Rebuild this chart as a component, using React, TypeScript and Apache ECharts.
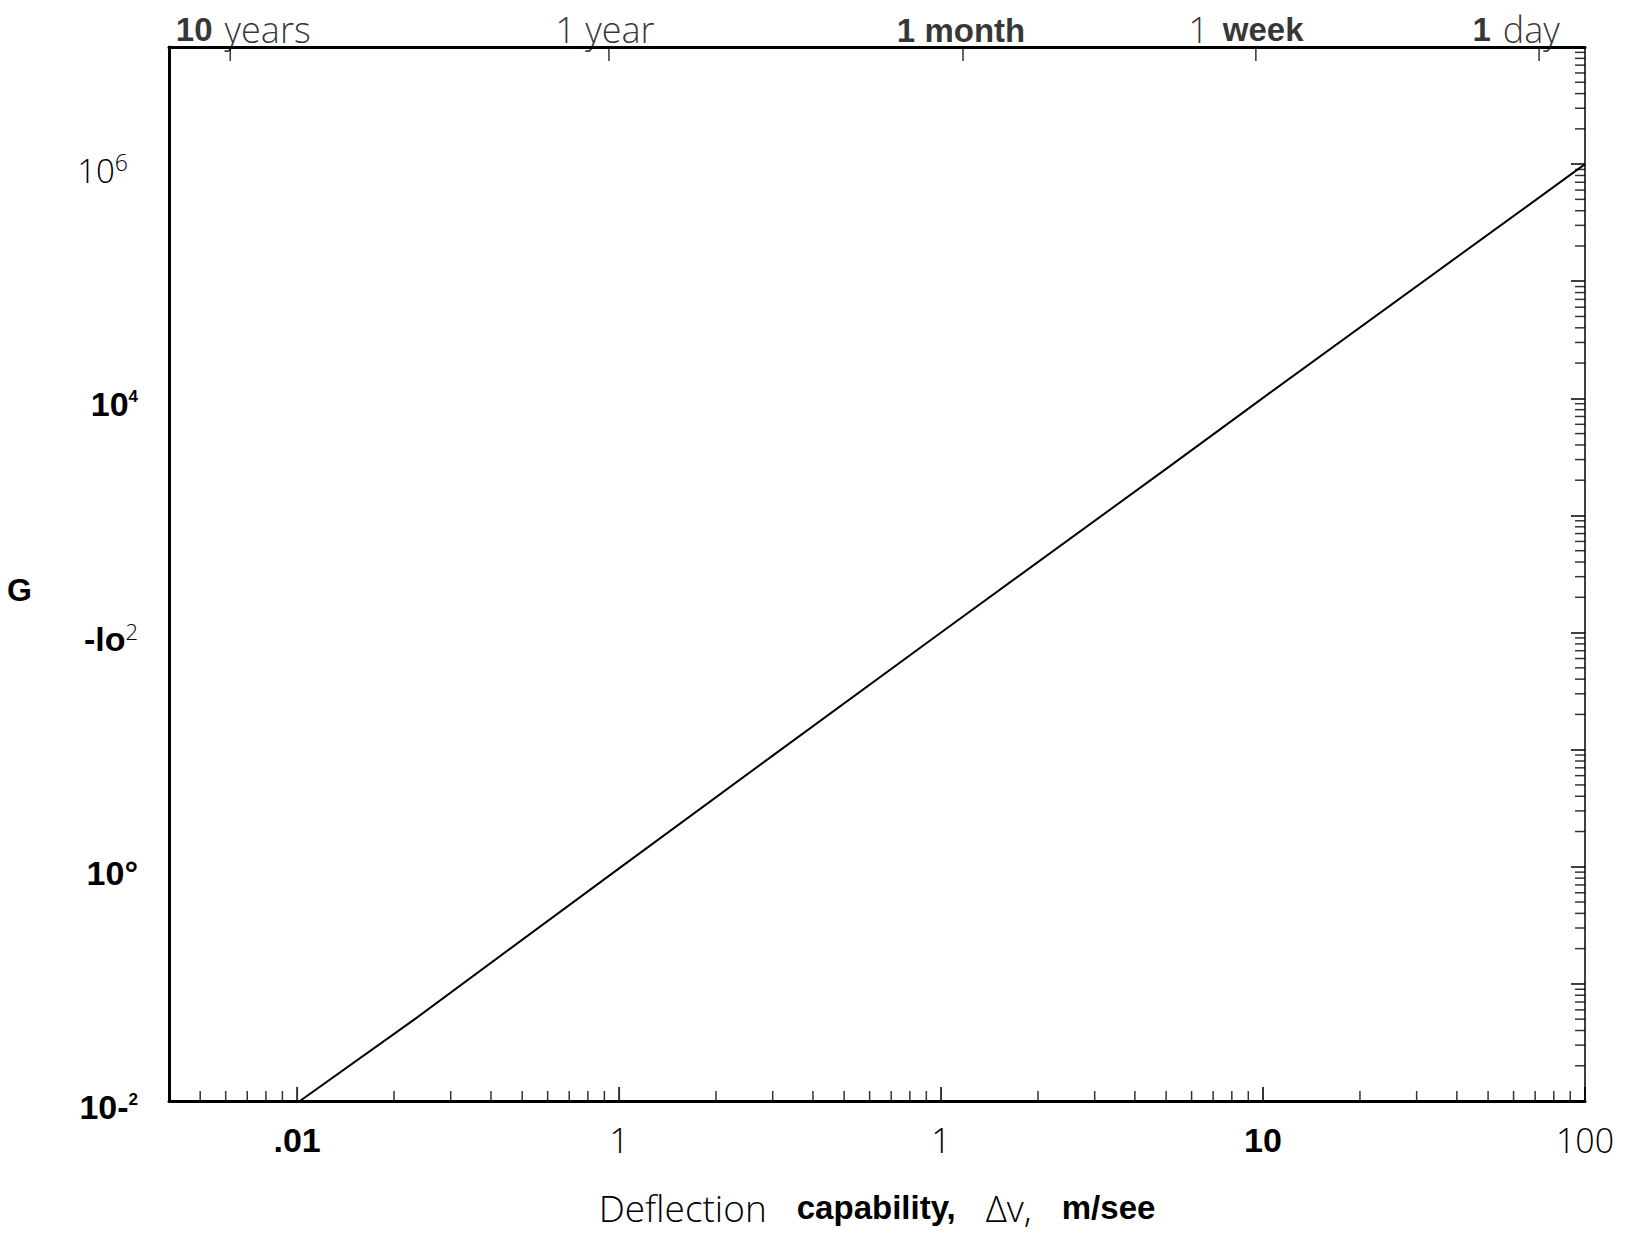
import React, { useEffect, useRef } from "react";
import * as echarts from "echarts";

// ---- data ----
const deltaV = [0.0102, 0.0232, 0.1, 0.3, 1, 5.05, 10, 100];
const gValues = [0.01, 0.05, 0.97, 8.9, 100, 2550, 10100, 1000000];

const xRange = [0.004, 100];
const yRange = [0.01, 1e7];

const xTickExponents = [-2, -1, 0, 1, 2];
const xTickLabels = ["{b|.01}", "{l|1}", "{l|1}", "{b|10}", "{l|100}"];

const yTickExponents = [-2, 0, 2, 4, 6];
const yTickLabels = [
  "{b|10-}{bsup|2}",
  "{b|10°}",
  "{b|-lo}{lsup|2}",
  "{b|10}{bsup|4}",
  "{ly|10}{lsup6|6}",
];

const topLabels = [
  "{tbs|10}{tl|years}",
  "{tl|1 year}",
  "{tb|1 month}",
  "{tls|1}{tb|week}",
  "{tbs|1}{tl|day}",
];
const topValues = [0.0062, 0.093, 1.17, 9.5, 72];

const xTitle = "{dlg|Deflection}{dbg|capability,}{dlg|Δv,}{db|m/see}";

const minorMultipliers = [2, 3, 4, 5, 6, 7, 8, 9];
const xDecades = [0.001, 0.01, 0.1, 1, 10];
const yDecades = [0.01, 0.1, 1, 10, 100, 1000, 10000, 100000, 1000000];

const BOLD = '"Liberation Sans Narrow", "Liberation Sans", Arial, sans-serif';
const BOLDW = '"Liberation Sans", Arial, sans-serif';
const LIGHT = '"Open Sans", Lato, "DejaVu Sans", sans-serif';

function expIndex(v: number, exps: number[]) {
  const l = Math.log10(v);
  const r = Math.round(l);
  if (Math.abs(l - r) > 1e-6) return -1;
  return exps.indexOf(r);
}

export default function App() {
  const ref = useRef<HTMLDivElement>(null);
  useEffect(() => {
    if (!ref.current) return;
    const chart = echarts.init(ref.current, undefined, { renderer: "svg" });

    const xMinor: number[][] = [];
    xDecades.forEach((d) =>
      minorMultipliers.forEach((m) => {
        const v = d * m;
        if (v > xRange[0] && v < xRange[1]) xMinor.push([v, yRange[0]]);
      })
    );
    const yMinor: number[][] = [];
    yDecades.forEach((d) =>
      minorMultipliers.forEach((m) => {
        const v = d * m;
        if (v > yRange[0] && v < yRange[1]) yMinor.push([xRange[1], v]);
      })
    );
    const xMajor = xTickExponents.map((e) => [Math.pow(10, e), yRange[0]]);

    // horizontal nudges of the top labels relative to their ticks (layout only)
    const topLabelNudge = [13, -4, -2, -10, -23];

    const rich = {
      b: { fontFamily: BOLD, fontWeight: "bold", fontSize: 34, color: "#000" },
      l: { fontFamily: LIGHT, fontWeight: 300, fontSize: 34, color: "#000" },
      ly: { fontFamily: LIGHT, fontWeight: 300, fontSize: 33, color: "#000" },
      bsup: { fontFamily: BOLD, fontWeight: "bold", fontSize: 17, color: "#000", padding: [0, 0, 16, 0] },
      lsup: { fontFamily: LIGHT, fontWeight: 300, fontSize: 22, color: "#000", padding: [0, 0, 16, 0] },
      lsup6: { fontFamily: LIGHT, fontWeight: 300, fontSize: 23, color: "#000", padding: [0, 10, 16, 0] },
      tb: { fontFamily: BOLD, fontWeight: "bold", fontSize: 33, color: "#000" },
      tbs: { fontFamily: BOLD, fontWeight: "bold", fontSize: 33, color: "#000", padding: [0, 12, 0, 0] },
      tl: { fontFamily: LIGHT, fontWeight: 300, fontSize: 36, color: "#000" },
      tls: { fontFamily: LIGHT, fontWeight: 300, fontSize: 36, color: "#000", padding: [0, 14, 0, 0] },
    };

    const option: any = {
      animation: false,
      backgroundColor: "#fff",
      grid: { left: 169, right: 41, top: 47, bottom: 136 },
      xAxis: [
        {
          type: "log",
          min: xRange[0],
          max: xRange[1],
          position: "bottom",
          axisLine: { lineStyle: { color: "#000", width: 3 } },
          axisTick: { show: false },
          splitLine: { show: false },
          axisLabel: {
            margin: 22,
            showMinLabel: false,
            formatter: (v: number) => {
              const i = expIndex(v, xTickExponents);
              return i >= 0 ? xTickLabels[i] : "";
            },
            rich,
          },
          name: xTitle,
          nameLocation: "middle",
          nameGap: 106,
          nameTextStyle: {
            verticalAlign: "middle",
            rich: {
              dlg: { fontFamily: LIGHT, fontWeight: 300, fontSize: 37, color: "#000", padding: [0, 30, 0, 0] },
              dbg: { fontFamily: BOLDW, fontWeight: "bold", fontSize: 33, color: "#000", padding: [0, 30, 0, 0] },
              db: { fontFamily: BOLDW, fontWeight: "bold", fontSize: 33, color: "#000" },
            },
          },
        },
        {
          type: "log",
          min: xRange[0],
          max: xRange[1],
          position: "top",
          axisLine: { lineStyle: { color: "#000", width: 3 } },
          axisTick: { show: false },
          axisLabel: { show: false },
          splitLine: { show: false },
        },
      ],
      yAxis: [
        {
          type: "log",
          min: yRange[0],
          max: yRange[1],
          interval: 1,
          position: "left",
          axisLine: { show: true, lineStyle: { color: "#000", width: 3 } },
          axisTick: { show: false },
          splitLine: { show: false },
          axisLabel: {
            margin: 31,
            padding: [12, 0, 0, 0],
            formatter: (v: number) => {
              const i = expIndex(v, yTickExponents);
              return i >= 0 ? yTickLabels[i] : "";
            },
            rich,
          },
          name: "G",
          nameLocation: "middle",
          nameRotate: 0,
          nameGap: 137,
          nameTextStyle: {
            fontFamily: BOLDW,
            fontWeight: "bold",
            fontSize: 32,
            color: "#000",
            verticalAlign: "top",
          },
        },
        {
          type: "log",
          min: yRange[0],
          max: yRange[1],
          interval: 1,
          position: "right",
          axisLine: { show: true, lineStyle: { color: "#000", width: 1.5 } },
          axisTick: { inside: true, length: 14, lineStyle: { color: "#000", width: 1.5 } },
          axisLabel: { show: false },
          splitLine: { show: false },
        },
      ],
      series: [
        {
          type: "line",
          data: deltaV.map((v, i) => [v, gValues[i]]),
          showSymbol: false,
          lineStyle: { color: "#000", width: 2 },
          z: 5,
        },
        {
          type: "scatter",
          data: xMinor,
          symbol: "rect",
          symbolSize: [1.5, 10],
          symbolOffset: [0, -5],
          itemStyle: { color: "#000" },
          clip: false,
          silent: true,
        },
        {
          type: "scatter",
          data: xMajor,
          symbol: "rect",
          symbolSize: [2, 14],
          symbolOffset: [0, -7],
          itemStyle: { color: "#000" },
          clip: false,
          silent: true,
        },
        {
          type: "scatter",
          data: yMinor,
          symbol: "rect",
          symbolSize: [10, 1.5],
          symbolOffset: [-5, 0],
          itemStyle: { color: "#000" },
          clip: false,
          silent: true,
        },
        {
          type: "scatter",
          data: topValues.map((v, i) => ({
            value: [v, yRange[1]],
            label: { offset: [topLabelNudge[i], 0] },
          })),
          symbol: "rect",
          symbolSize: [1.5, 14],
          symbolOffset: [0, 7],
          itemStyle: { color: "#000" },
          clip: false,
          silent: true,
          label: {
            show: true,
            position: "top",
            distance: 0,
            formatter: (p: any) => topLabels[p.dataIndex],
            rich,
          },
        },
      ],
    };
    chart.setOption(option);
    return () => chart.dispose();
  }, []);
  return (
    <div
      ref={ref}
      style={{ position: "fixed", left: 0, top: 0, width: 1626, height: 1237, background: "#fff" }}
    />
  );
}
